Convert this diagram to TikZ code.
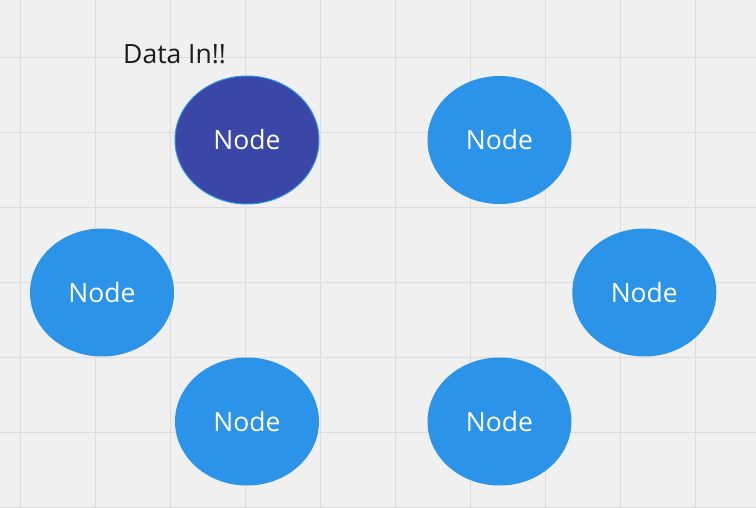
\documentclass[tikz,border=0pt]{standalone}
\usepackage{fontspec}
\setmainfont{Open Sans}
\usetikzlibrary{shapes.geometric}
\definecolor{bgc}{HTML}{F0F0F0}
\definecolor{gridc}{HTML}{DCDCDC}
\definecolor{nodeblue}{HTML}{2B93E8}
\definecolor{darknode}{HTML}{3A47A6}
\definecolor{textc}{HTML}{1A1A1A}
\begin{document}
\begin{tikzpicture}[x=1pt,y=-1pt,
  blob/.style={ellipse,draw=none,fill=nodeblue,minimum width=144pt,minimum height=128pt,inner sep=0pt,text=white,font=\fontsize{26.5}{30}\selectfont},
  darkblob/.style={blob,fill=darknode,draw=nodeblue,line width=1pt},
  label/.style={text=textc,font=\fontsize{26.5}{30}\selectfont,inner sep=0pt}]
\fill[bgc] (0,0) rectangle (756,508);
\useasboundingbox (0,0) rectangle (756,508);
\foreach \gx in {20.7,95.7,...,720} {\draw[gridc,line width=1.3pt] (\gx,0) -- (\gx,508);}
\foreach \gy in {57.3,132.3,...,510} {\draw[gridc,line width=1.3pt] (0,\gy) -- (756,\gy);}
\node[darkblob] (n1) at (247,140) {Node};
\node[blob] (n2) at (499.5,140) {Node};
\node[blob] (n3) at (102,292.5) {Node};
\node[blob] (n4) at (644.3,292.5) {Node};
\node[blob] (n5) at (247,421.5) {Node};
\node[blob] (n6) at (499.5,421.5) {Node};
\node[label,anchor=base west] (din) at (123,64) {Data In!!};
\end{tikzpicture}
\end{document}
